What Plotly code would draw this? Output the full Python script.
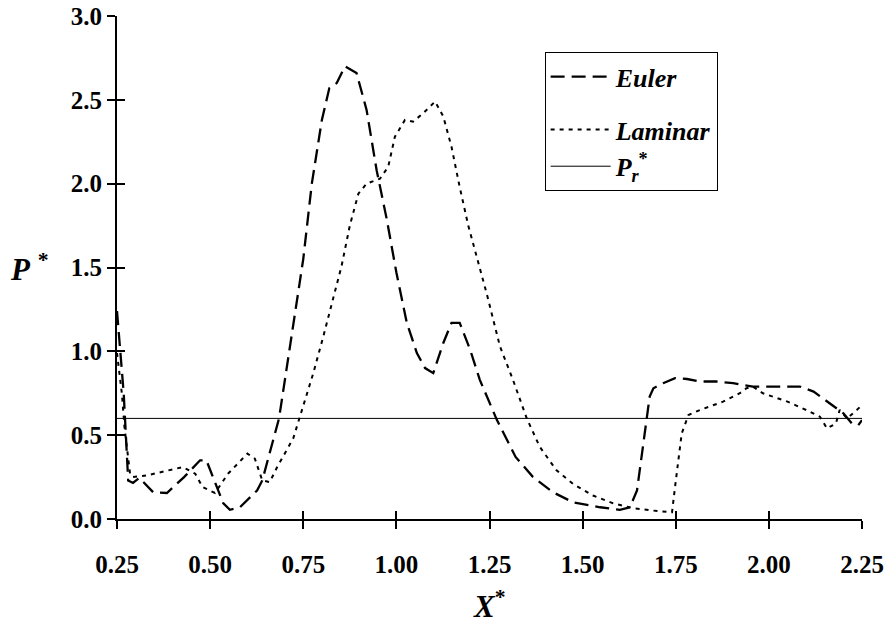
import plotly.graph_objects as go

euler_x = [0.25, 0.258, 0.268, 0.274, 0.28, 0.293, 0.31, 0.347, 0.384, 0.43, 0.473, 0.49,
           0.513, 0.535, 0.553, 0.58, 0.626, 0.64, 0.685, 0.723, 0.75, 0.773, 0.80, 0.82,
           0.84, 0.862, 0.893, 0.92, 0.947, 0.974, 1.0, 1.028, 1.055, 1.077, 1.099, 1.126,
           1.148, 1.17, 1.198, 1.224, 1.27, 1.32, 1.367, 1.42, 1.474, 1.547, 1.6, 1.627,
           1.646, 1.68, 1.69, 1.716, 1.748, 1.78, 1.815, 1.86, 1.904, 1.957, 2.01, 2.083,
           2.12, 2.156, 2.183, 2.2, 2.223, 2.24, 2.25]
euler_y = [1.24, 1.01, 0.75, 0.49, 0.23, 0.215, 0.245, 0.16, 0.155, 0.25, 0.35, 0.35,
           0.215, 0.095, 0.055, 0.07, 0.17, 0.23, 0.6, 1.15, 1.55, 2.0, 2.38, 2.57,
           2.6, 2.7, 2.66, 2.44, 2.08, 1.79, 1.47, 1.17, 0.99, 0.9, 0.87, 1.05,
           1.17, 1.17, 1.01, 0.83, 0.59, 0.37, 0.25, 0.16, 0.1, 0.07, 0.055, 0.07,
           0.17, 0.73, 0.78, 0.81, 0.84, 0.835, 0.82, 0.82, 0.81, 0.79, 0.79, 0.79,
           0.76, 0.7, 0.66, 0.63, 0.57, 0.56, 0.59]

laminar_x = [0.25, 0.263, 0.27, 0.285, 0.293, 0.33, 0.427, 0.46, 0.48, 0.513, 0.548, 0.6,
             0.62, 0.64, 0.66, 0.68, 0.723, 0.75, 0.777, 0.804, 0.83, 0.853, 0.875, 0.898,
             0.92, 0.956, 0.978, 0.996, 1.023, 1.045, 1.072, 1.104, 1.126, 1.148, 1.17,
             1.193, 1.243, 1.278, 1.313, 1.35, 1.385, 1.43, 1.474, 1.528, 1.58, 1.635,
             1.69, 1.74, 1.748, 1.766, 1.784, 1.815, 1.877, 1.922, 1.94, 1.957, 1.984,
             2.05, 2.1, 2.137, 2.156, 2.18, 2.19, 2.21, 2.236, 2.25]
laminar_y = [0.99, 0.75, 0.55, 0.27, 0.25, 0.26, 0.31, 0.27, 0.19, 0.155, 0.27, 0.39,
             0.36, 0.23, 0.22, 0.31, 0.48, 0.67, 0.87, 1.09, 1.31, 1.51, 1.75, 1.94,
             2.0, 2.03, 2.1, 2.28, 2.38, 2.37, 2.42, 2.49, 2.4, 2.22, 1.98,
             1.75, 1.34, 1.03, 0.83, 0.6, 0.43, 0.29, 0.21, 0.14, 0.095, 0.065,
             0.05, 0.04, 0.19, 0.51, 0.62, 0.65, 0.7, 0.75, 0.78, 0.79, 0.75,
             0.7, 0.65, 0.61, 0.54, 0.57, 0.65, 0.6, 0.65, 0.68]

pr_x = [0.25, 2.25]
pr_y = [0.6, 0.6]

x_ticks = [0.25, 0.5, 0.75, 1.0, 1.25, 1.5, 1.75, 2.0, 2.25]
y_ticks = [0.0, 0.5, 1.0, 1.5, 2.0, 2.5, 3.0]
x_range = [0.25, 2.25]
y_range = [0.0, 3.0]

FONT = "Liberation Serif"

fig = go.Figure()
fig.add_trace(go.Scatter(x=euler_x, y=euler_y, mode="lines", name="<b><i>Euler</i></b>",
                         line=dict(color="black", width=2.3, dash="14px,7px"),
                         legendgroup="a"))
fig.add_trace(go.Scatter(x=laminar_x, y=laminar_y, mode="lines", name="<b><i>Laminar</i></b>",
                         line=dict(color="black", width=2, dash="4px,5px"),
                         legendgroup="b"))
fig.add_trace(go.Scatter(x=pr_x, y=pr_y, mode="lines",
                         name="<b><i>P</i></b><sub><b><i>r</i></b></sub><sup><b>*</b></sup>",
                         line=dict(color="black", width=1), xaxis="x2", yaxis="y2",
                         legendgroup="b"))

axis_common = dict(showgrid=False, zeroline=False, color="black", automargin=False)
fig.update_layout(
    template="none",
    width=887, height=624,
    margin=dict(l=117, r=25, t=16, b=105),
    paper_bgcolor="white", plot_bgcolor="white",
    font=dict(family=FONT, size=25, color="black"),
    showlegend=True,
    legend=dict(x=0.574, y=0.928, xanchor="left", yanchor="top",
                bordercolor="black", borderwidth=1, bgcolor="white",
                font=dict(family=FONT, size=26, color="black"),
                tracegroupgap=16, itemwidth=60),
    xaxis=dict(range=x_range, tickvals=x_ticks, tickformat=".2f",
               ticks="outside", ticklen=8, tickwidth=2, tickcolor="black",
               showline=True, linewidth=2, linecolor="black", ticklabelstandoff=14,
               tickfont=dict(family=FONT, size=25, weight="bold"), **axis_common),
    yaxis=dict(range=y_range, tickvals=y_ticks, tickformat=".1f",
               ticks="outside", ticklen=8, tickwidth=2, tickcolor="black",
               showline=True, linewidth=2, linecolor="black",
               tickfont=dict(family=FONT, size=25, weight="bold"), **axis_common),
    xaxis2=dict(range=x_range, tickvals=x_ticks, overlaying="x", anchor="y",
                ticks="inside", ticklen=8, tickwidth=2, tickcolor="black",
                showticklabels=False, showline=False, **axis_common),
    yaxis2=dict(range=y_range, tickvals=y_ticks, overlaying="y", anchor="x", side="left",
                ticks="inside", ticklen=8, tickwidth=2, tickcolor="black",
                showticklabels=False, showline=False, **axis_common),
    annotations=[
        dict(text="<b><i>P</i></b> <sup><b>*</b></sup>", xref="paper", yref="y",
             x=-0.117, y=1.5, showarrow=False, xanchor="center", yanchor="middle",
             font=dict(family=FONT, size=31, color="black")),
        dict(text="<b><i>X</i></b><sup><b>*</b></sup>", xref="paper", yref="paper",
             x=0.5, y=-0.128, showarrow=False, xanchor="center", yanchor="top",
             font=dict(family=FONT, size=31, color="black")),
    ],
)

fig.write_html("out.html", config={"displayModeBar": False},
               post_script="document.body.style.margin='0';")
